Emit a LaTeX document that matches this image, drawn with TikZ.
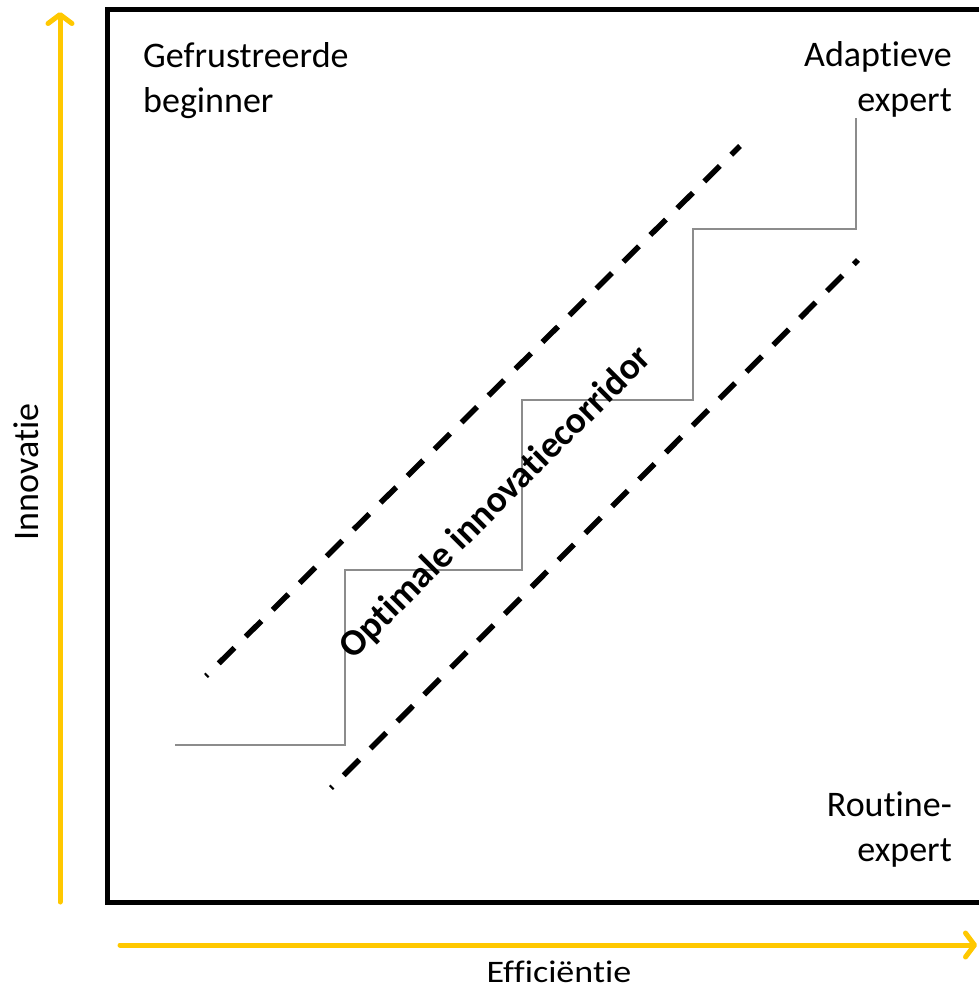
\documentclass[tikz,border=0pt]{standalone}
\usepackage{fontspec}
\setmainfont{Carlito}[Ligatures=NoCommon]
\usetikzlibrary{arrows.meta}
\definecolor{axisyellow}{HTML}{FFC800}
\definecolor{stairgray}{HTML}{8C8C8C}
\begin{document}
\begin{tikzpicture}[x=1pt,y=-1pt,
  axisline/.style={draw=axisyellow, line width=5pt, line cap=round,
    -{Straight Barb[length=9pt,width=24pt,round]}},
  framebox/.style={draw=black, line width=5pt},
  stair/.style={draw=stairgray, line width=2pt},
  corridor/.style={draw=black, line width=5.5pt, dash pattern=on 22pt off 16pt, dash phase=20pt},
  lbl/.style={font=\fontsize{36}{45}\selectfont, inner sep=0pt},
  axlbl/.style={font=\fontsize{36}{42}\selectfont, inner sep=0pt}]
\useasboundingbox (0,0) rectangle (979,989);
% frame
\draw[framebox] (107,9) rectangle (1000,902);
% axes
\coordinate (ybot) at (60,902);
\coordinate (ytop) at (60,12);
\coordinate (xleft) at (120,945);
\coordinate (xright) at (977,945);
\draw[axisline] (ybot) -- (ytop);
\draw[axisline] (xleft) -- (xright);
\node[axlbl, rotate=90, anchor=base] (innov) at (38,472) {Innovatie};
\node[axlbl, yscale=0.87, anchor=base] (effic) at (559,982) {Efficiëntie};
% corner labels
\node[lbl, anchor=north west, align=left] (beginner) at (143,42) {Gefrustreerde\\beginner};
\node[lbl, anchor=north east, align=right] (adaptief) at (952,41) {Adaptieve\\expert};
\node[lbl, anchor=north east, align=right] (routine) at (952,792) {Routine-\\expert};
% staircase
\coordinate (s0) at (175,745);
\coordinate (s1) at (345,570);
\coordinate (s2) at (522,400);
\coordinate (s3) at (693,229);
\coordinate (s4) at (856,118);
\draw[stair] (s0) -| (s1) -| (s2) -| (s3) -| (s4);
% corridor
\coordinate (u0) at (206,676);
\coordinate (u1) at (740,146);
\coordinate (l0) at (331,788);
\coordinate (l1) at (858,260);
\draw[corridor] (u0) -- (u1);
\draw[corridor] (l0) -- (l1);
\node[lbl, font=\fontsize{37.5}{45}\selectfont\bfseries, rotate=45] (corr) at (496,503) {Optimale innovatiecorridor};
\end{tikzpicture}
\end{document}
